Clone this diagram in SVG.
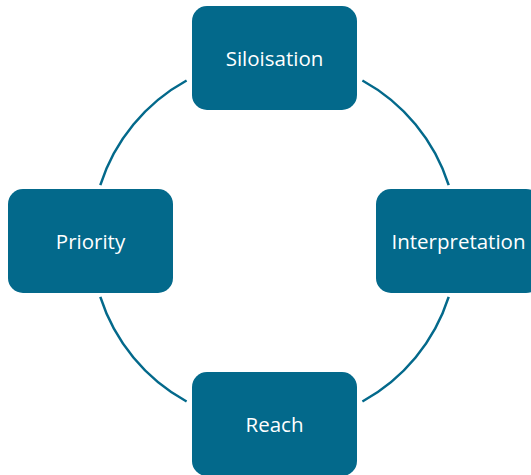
<svg xmlns="http://www.w3.org/2000/svg" width="531" height="475" viewBox="0 0 531 475">
<style>
.box{fill:#03698b;}
.lbl{fill:#ffffff;font-family:"Open Sans","Liberation Sans",sans-serif;font-size:20.5px;text-anchor:middle;dominant-baseline:central;}
.arc{fill:none;stroke:#03698b;stroke-width:2.5;}
</style>
<rect width="531" height="475" fill="#ffffff"/>
<g id="connectors">
<path class="arc" d="M 100.3 185.1 A 183 183 0 0 1 186.6 80.5"/>
<path class="arc" d="M 362.4 80.5 A 183 183 0 0 1 448.7 185.1"/>
<path class="arc" d="M 448.7 296.9 A 183 183 0 0 1 362.4 401.5"/>
<path class="arc" d="M 186.6 401.5 A 183 183 0 0 1 100.3 296.9"/>
</g>
<g id="siloisation">
<rect class="box" x="192" y="6" width="165" height="104" rx="15"/>
<text class="lbl" x="274.5" y="58">Siloisation</text>
</g>
<g id="interpretation">
<rect class="box" x="376" y="189" width="165" height="104" rx="15"/>
<text class="lbl" x="458.5" y="241">Interpretation</text>
</g>
<g id="priority">
<rect class="box" x="8" y="189" width="165" height="104" rx="15"/>
<text class="lbl" x="90.5" y="241">Priority</text>
</g>
<g id="reach">
<rect class="box" x="192" y="372" width="165" height="104" rx="15"/>
<text class="lbl" x="274.5" y="424">Reach</text>
</g>
</svg>
